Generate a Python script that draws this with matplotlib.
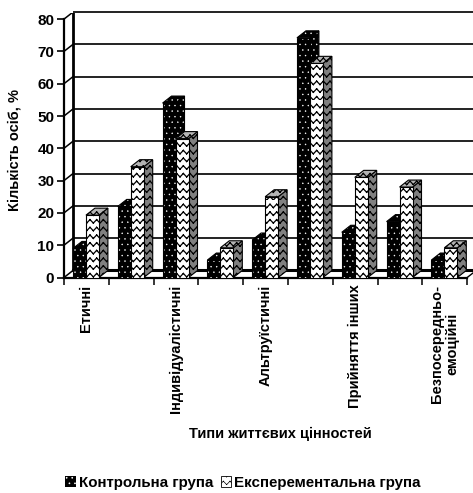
import matplotlib
matplotlib.use('Agg')
import matplotlib.pyplot as plt
from matplotlib import hatch as mhatch
from matplotlib.patches import Polygon, Patch
from matplotlib.path import Path
import numpy as np

categories = ['Етичні', '', 'Індивідуалістичні', '', 'Альтруїстичні', '',
              'Прийняття інших', '', 'Безпосередньо-\nемоційні']
control = [9, 22, 54, 5.4, 11.6, 74.2, 14, 17.3, 5.4]
experimental = [19.3, 34.3, 43, 9.2, 25, 66.3, 31, 28, 9.2]
y_ticks = [0, 10, 20, 30, 40, 50, 60, 70, 80]


# matplotlib has no wavy hatch, so add a zigzag one
class ZigzagHatch(mhatch.HatchPatternBase):
    def __init__(self, hatch, density):
        self.num_rows = hatch.count('z') * 13
        self.num_cols = hatch.count('z') * 15
        self.num_vertices = self.num_rows * self.num_cols * 4

    def set_vertices_and_codes(self, vertices, codes):
        w = 1.0 / self.num_cols
        h = 1.0 / self.num_rows
        k = 0
        for r in range(self.num_rows):
            for c in range(self.num_cols):
                x0, y0 = c * w, r * h
                pts = [(x0, y0), (x0 + w / 2, y0 + h * 0.45),
                       (x0 + w / 2, y0 + h * 0.45), (x0 + w, y0)]
                for j, p in enumerate(pts):
                    vertices[k] = p
                    codes[k] = Path.MOVETO if j % 2 == 0 else Path.LINETO
                    k += 1


# tiny dots, the stock '.' hatch is too coarse here
class TinyDots(mhatch.Circles):
    size = 0.09
    filled = True

    def __init__(self, hatch, density):
        self.num_rows = hatch.count('d') * 18
        super().__init__(hatch, density)


mhatch._hatch_types.append(ZigzagHatch)
mhatch._hatch_types.append(TinyDots)

plt.rcParams['font.family'] = ['Liberation Sans', 'DejaVu Sans']
plt.rcParams['font.weight'] = 'bold'

W, H = 473, 493
fig = plt.figure(figsize=(W / 100, H / 100), dpi=100)
ax = fig.add_axes([64 / W, 1 - 277.5 / H, 409 / W, 264.5 / H])

ax.set_xlim(0, 409 / 44.8)
ax.set_ylim(0, 264.5 / 3.23)

# oblique depth of the fake 3D, in data units
dx = 0.2
dy = 2.17
bar_w = 0.29
x = np.arange(len(control))

for s in ['top', 'right']:
    ax.spines[s].set_visible(False)
for s in ['left', 'bottom']:
    ax.spines[s].set_linewidth(1.6)
ax.spines['left'].set_bounds(0, 80)
ax.spines['bottom'].set_bounds(0, 9)

# walls and grid
for v in y_ticks:
    ax.plot([dx, 409 / 44.8], [v + dy, v + dy], color='#111111', lw=1.3,
            zorder=1, clip_on=False, solid_capstyle='butt')
    ax.plot([0, dx], [v, v + dy], color='black', lw=1.1, zorder=1)
ax.plot([dx, dx], [dy, 80 + dy], color='black', lw=2, zorder=1)
ax.plot([dx, 409 / 44.8], [dy, dy], color='black', lw=2.2, zorder=1)
ax.plot([9, 9 + dx], [0, dy], color='black', lw=1, zorder=1)


def add_face(pts, face, edge, hatch, z):
    plt.rcParams['hatch.linewidth'] = 0.35 if 'd' in hatch else 0.9
    ax.add_patch(Polygon(pts, closed=True, facecolor=face, edgecolor=edge,
                         hatch=hatch, lw=0, zorder=z))
    ax.add_patch(Polygon(pts, closed=True, fill=False, edgecolor='black',
                         lw=0.8, zorder=z))


def draw_bar(x0, v, front, top, side, edge, hatch, z):
    x1 = x0 + bar_w
    add_face([(x1, 0), (x1 + dx, dy), (x1 + dx, v + dy), (x1, v)], side, edge, hatch, z)
    add_face([(x0, v), (x0 + dx, v + dy), (x1 + dx, v + dy), (x1, v)], top, edge, hatch, z)
    add_face([(x0, 0), (x1, 0), (x1, v), (x0, v)], front, edge, hatch, z)


for i in x:
    base = i * 4
    draw_bar(i + dx, control[i], 'black', 'black', 'black', 'white', 'd', 3 + base)
    draw_bar(i + dx + bar_w, experimental[i], 'white', '#b4b4b4', '#808080',
             'black', 'z', 5 + base)

ax.set_yticks(y_ticks)
ax.tick_params(axis='y', labelsize=11, length=5, width=1.2, pad=2)
ax.set_xticks(np.arange(0, 10))
ax.set_xticklabels([])
ax.tick_params(axis='x', which='major', length=5, width=1.1)
ax.set_xticks(x + 0.49, minor=True)
ax.set_xticklabels(categories, minor=True, rotation=90, fontsize=10.5, va='top',
                   ha='center', linespacing=1.1)
ax.tick_params(axis='x', which='minor', length=0, pad=5)
ax.set_ylabel('Кількість осіб, %', fontsize=10.5, fontweight='bold', labelpad=4)
ax.yaxis.set_label_coords(-(64 - 21) / 409, (277.5 - 150) / 264.5)

fig.text(280 / W, 1 - 434 / H, 'Типи життєвих цінностей', fontsize=10.5,
         ha='center', va='center')

plt.rcParams['hatch.linewidth'] = 0.5
handles = [Patch(facecolor='black', edgecolor='white', hatch='d', lw=0),
           Patch(facecolor='white', edgecolor='black', hatch='z', lw=0.6)]
fig.legend(handles, ['Контрольна група', 'Експерементальна група'], ncol=2,
           loc='center', bbox_to_anchor=(243 / W, 1 - 483 / H), frameon=False,
           fontsize=10.9, handlelength=0.7, handleheight=0.7, handletextpad=0.2,
           columnspacing=0.5, borderpad=0, borderaxespad=0)

fig.savefig('out.png', dpi=100)
